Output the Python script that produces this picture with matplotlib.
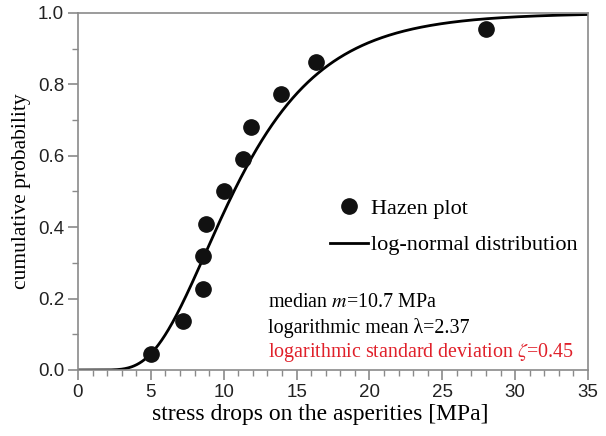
import math
import numpy as np
import matplotlib.pyplot as plt

# --- data ---
stress_drop = [5.0, 7.2, 8.6, 8.6, 8.8, 10.0, 11.3, 11.9, 13.9, 16.3, 28.0]
cum_prob = [0.045, 0.136, 0.227, 0.318, 0.409, 0.500, 0.591, 0.682, 0.773, 0.864, 0.955]

# log-normal parameters shown on the chart
lam = 2.37
zeta = 0.45

x_curve = np.linspace(0.01, 35, 600)
y_curve = np.array([0.5 * (1 + math.erf((math.log(v) - lam) / (zeta * math.sqrt(2)))) for v in x_curve])

plt.rcParams['mathtext.fontset'] = 'stix'
serif = 'Liberation Serif'
sans = 'Liberation Sans'
frame = '#8a8a8a'

fig = plt.figure(figsize=(6.06, 4.36), dpi=100)
ax = fig.add_axes([0.1287, 0.1514, 0.8416, 0.8188])

ax.plot(x_curve, y_curve, color='black', lw=2, label='log-normal distribution', zorder=2)
ax.plot(stress_drop, cum_prob, 'o', color='#111111', ms=11, ls='none', label='Hazen plot', zorder=3)

ax.set_xlim(0, 35)
ax.set_ylim(0, 1)
ax.set_xticks(np.arange(0, 36, 5))
ax.set_xticks(np.arange(0, 36, 1), minor=True)
ax.set_yticks(np.arange(0, 1.01, 0.2))
ax.set_yticks(np.arange(0, 1.01, 0.1), minor=True)
ax.set_yticklabels([f'{v:.1f}' for v in np.arange(0, 1.01, 0.2)])

for s in ax.spines.values():
    s.set_color(frame)
    s.set_linewidth(1.2)
ax.tick_params(which='major', direction='out', length=7, width=1.2, color=frame,
               labelsize=13.5, labelcolor='#222222', pad=3)
ax.tick_params(which='minor', direction='out', length=4, width=1.0, color=frame)
for lab in ax.get_xticklabels() + ax.get_yticklabels():
    lab.set_family(sans)

ax.set_xlabel('stress drops on the asperities [MPa]', family=serif, fontsize=17)
ax.xaxis.set_label_coords(0.475, -0.095)
ax.set_ylabel('cumulative probability', family=serif, fontsize=15.5, labelpad=5)

handles, labels = ax.get_legend_handles_labels()
ax.legend(handles[::-1], labels[::-1], loc='upper left', bbox_to_anchor=(0.494, 0.481),
          frameon=False, handlelength=1.7, labelspacing=0.72, handletextpad=0.15,
          borderpad=0, borderaxespad=0, prop={'family': serif, 'size': 16})

ax.text(0.3725, 0.188, r'median $m$=10.7 MPa', transform=ax.transAxes, family=serif,
        fontsize=14.4, va='center')
ax.text(0.3725, 0.118, 'logarithmic mean λ=2.37', transform=ax.transAxes, family=serif,
        fontsize=14.4, va='center')
ax.text(0.3725, 0.048, r'logarithmic standard deviation $\zeta$=0.45', transform=ax.transAxes,
        family=serif, fontsize=14.4, color='#e0202a', va='center')

fig.savefig('out.png', dpi=100)
